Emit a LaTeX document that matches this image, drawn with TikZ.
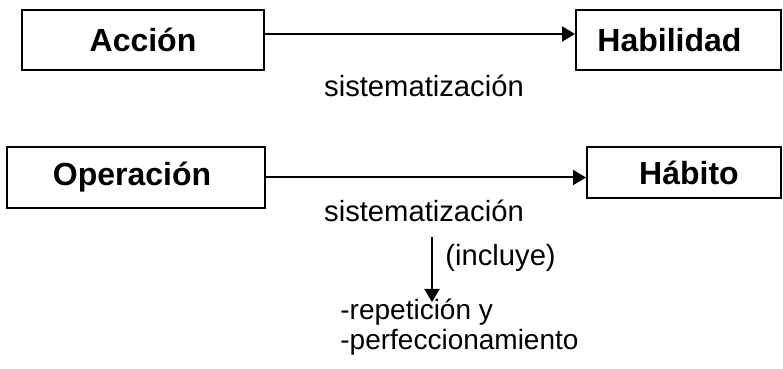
\documentclass[tikz,border=0pt]{standalone}
\usepackage{fontspec}
\setmainfont{Liberation Sans}
\usetikzlibrary{arrows.meta}

\begin{document}
\begin{tikzpicture}[
        x=0.5pt, y=-0.5pt,
        box node/.style={rectangle, draw, line width=1pt, inner sep=0pt,
            font=\fontsize{16}{19}\selectfont\bfseries},
        plain text/.style={inner sep=0pt, font=\fontsize{14.6}{17}\selectfont},
        list text/.style={inner sep=0pt, font=\fontsize{14}{17}\selectfont},
        link/.style={line width=1pt, -{Triangle[length=6.5pt, width=7.5pt]}},
    ]
    \useasboundingbox (0,0) rectangle (783,369);

    \node[box node, minimum width=121pt, minimum height=30pt] (accion) at (143,40) {Acción};
    \node[box node, minimum width=102.5pt, minimum height=30pt] (habil) at (678.5,40) {Habilidad\hspace*{9pt}};
    \node[box node, minimum width=129pt, minimum height=30.5pt] (oper) at (136,177.5) {Operación\hspace*{4pt}};
    \node[box node, minimum width=97pt, minimum height=25.5pt] (habito) at (684,172.5) {\hspace*{5pt}Hábito};

    \node[plain text, anchor=base] (sis1) at (424,97) {sistematización};
    \node[plain text, anchor=base] (sis2) at (424,222) {sistematización};
    \node[plain text, anchor=base west] (incl) at (445,265) {(incluye)};
    \node[list text, anchor=base west] (rep) at (340,320) {-repetición y};
    \node[list text, anchor=base west] (perf) at (340,350) {-perfeccionamiento};

    \coordinate (incl top) at (432,237);
    \coordinate (incl tip) at (432,302);

    \draw[link] ([yshift=3pt]accion.east) -- ([yshift=3pt]accion.east -| habil.west);
    \draw[link] (oper.east) -- (oper.east -| habito.west);
    \draw[link] (incl top) -- (incl tip);
\end{tikzpicture}
\end{document}
